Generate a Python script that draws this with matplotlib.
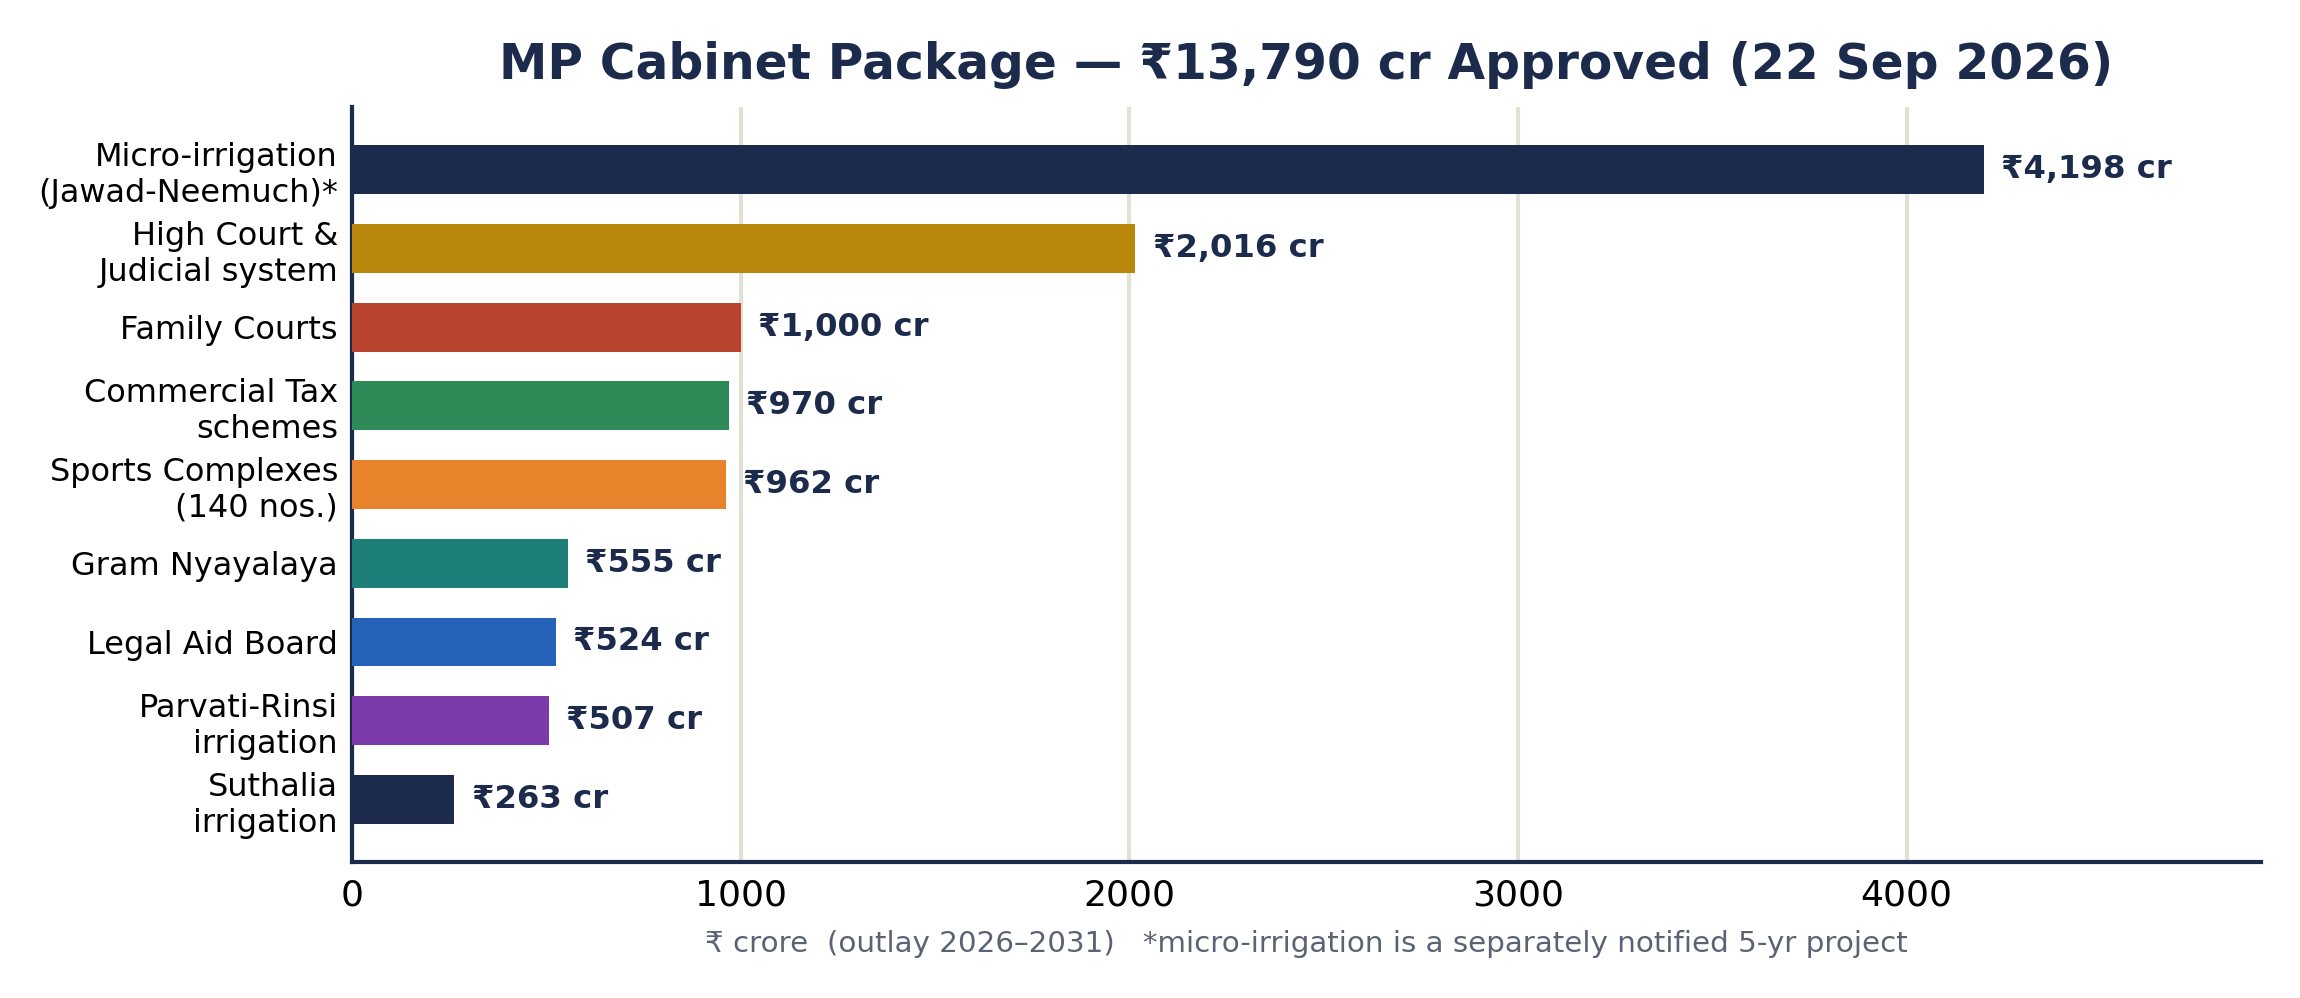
import matplotlib
matplotlib.use("Agg")
import matplotlib.pyplot as plt

# data
categories = [
    "Micro-irrigation\n(Jawad-Neemuch)*",
    "High Court &\nJudicial system",
    "Family Courts",
    "Commercial Tax\nschemes",
    "Sports Complexes\n(140 nos.)",
    "Gram Nyayalaya",
    "Legal Aid Board",
    "Parvati-Rinsi\nirrigation",
    "Suthalia\nirrigation",
]
outlay_cr = [4198, 2016, 1000, 970, 962, 555, 524, 507, 263]
value_labels = ["₹4,198 cr", "₹2,016 cr", "₹1,000 cr", "₹970 cr", "₹962 cr",
                "₹555 cr", "₹524 cr", "₹507 cr", "₹263 cr"]
bar_colors = ["#1c2b4b", "#b8860b", "#b94430", "#2e8b57", "#e8832b",
              "#1e7f78", "#2563b8", "#7d3aab", "#1c2b4b"]

NAVY = "#1c2b4b"
GRID = "#e3e0d6"
NOTE = "#5b6273"

fig, ax = plt.subplots(figsize=(11.5, 4.99), dpi=200)
fig.subplots_adjust(left=0.153, right=0.983, top=0.893, bottom=0.136)

y = list(range(len(categories)))
ax.barh(y, outlay_cr, height=0.62, color=bar_colors, zorder=3)

for yi, v, lab in zip(y, outlay_cr, value_labels):
    ax.text(v + 45, yi, lab, va="center", ha="left", fontsize=11.6,
            fontweight="bold", color=NAVY, zorder=4)

ax.set_yticks(y)
ax.set_yticklabels(categories, fontsize=11.5)
ax.set_ylim(len(categories) - 1 + 0.8, -0.8)
ax.set_xlim(0, max(outlay_cr) * 1.17)
ax.set_xticks([0, 1000, 2000, 3000, 4000])
ax.tick_params(axis="x", labelsize=13, length=0, pad=6)
ax.tick_params(axis="y", length=0, pad=5)

ax.grid(axis="x", color=GRID, linewidth=1.5, zorder=0)
ax.grid(axis="y", visible=False)

for s in ["top", "right"]:
    ax.spines[s].set_visible(False)
for s in ["left", "bottom"]:
    ax.spines[s].set_color(NAVY)
    ax.spines[s].set_linewidth(1.5)

ax.set_xlabel("₹ crore  (outlay 2026–2031)   *micro-irrigation is a separately notified 5-yr project",
              fontsize=10.6, color=NOTE, labelpad=6)
ax.set_title("MP Cabinet Package — ₹13,790 cr Approved (22 Sep 2026)",
             fontsize=17.5, fontweight="bold", color=NAVY, pad=10)

fig.savefig("out.png", dpi=200)
